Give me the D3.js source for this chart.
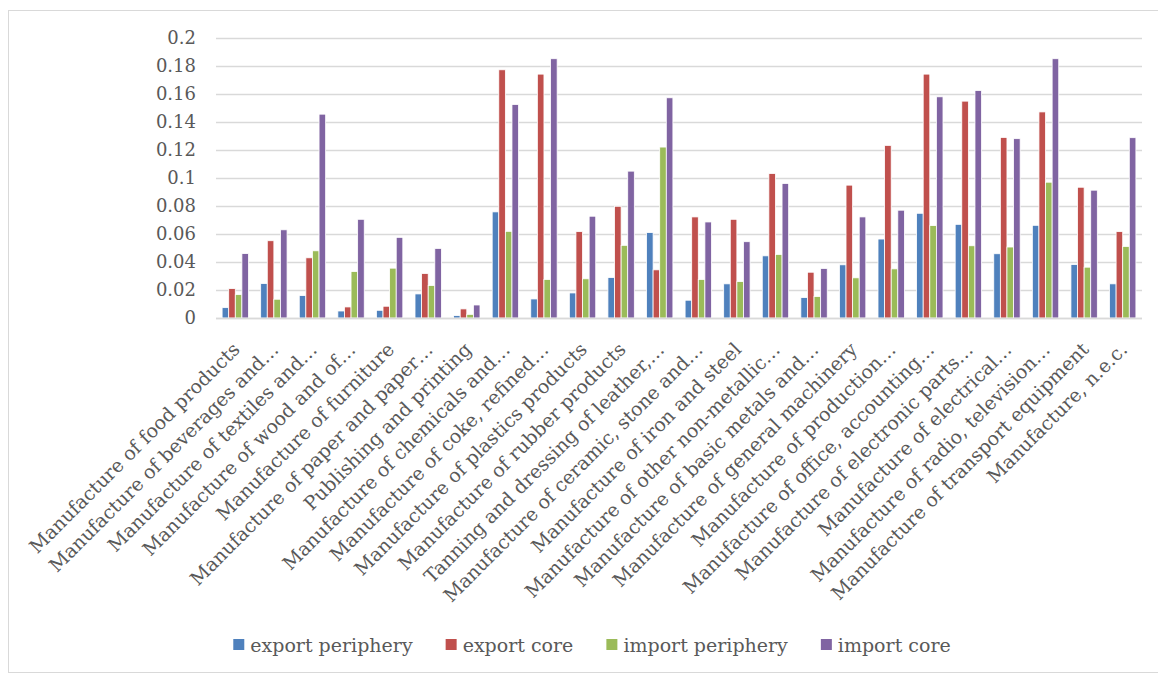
<!DOCTYPE html>
<html>
<head>
<meta charset="utf-8">
<script src="https://cdn.jsdelivr.net/npm/d3@7"></script>
<style>
  html, body { margin: 0; padding: 0; background: #fff; }
  svg { display: block; }
  text { font-family: "DejaVu Serif", serif; fill: #595959; }
</style>
</head>
<body>
<svg id="chart" width="1158" height="675"></svg>
<script>
// Industry categories (labels are shortened as shown on the axis)
const categories = [
  "Manufacture of food products",
  "Manufacture of beverages and…",
  "Manufacture of textiles and…",
  "Manufacture of wood and of…",
  "Manufacture of furniture",
  "Manufacture of paper and paper…",
  "Publishing and printing",
  "Manufacture of chemicals and…",
  "Manufacture of coke, refined…",
  "Manufacture of plastics products",
  "Manufacture of rubber products",
  "Tanning and dressing of leather,…",
  "Manufacture of ceramic, stone and…",
  "Manufacture of iron and steel",
  "Manufacture of other non-metallic…",
  "Manufacture of basic metals and…",
  "Manufacture of general machinery",
  "Manufacture of production…",
  "Manufacture of office, accounting…",
  "Manufacture of electronic parts…",
  "Manufacture of electrical…",
  "Manufacture of radio, television…",
  "Manufacture of transport equipment",
  "Manufacture, n.e.c."
];

const seriesNames = ["export periphery", "export core", "import periphery", "import core"];

const exportPeriphery = [0.0074, 0.0246, 0.016, 0.005, 0.0055, 0.0172, 0.0017, 0.0758,
  0.0136, 0.0179, 0.0289, 0.061, 0.0127, 0.0244, 0.0444, 0.0146,
  0.038, 0.0564, 0.0748, 0.0669, 0.0459, 0.0662, 0.0382, 0.0244];
const exportCore = [0.021, 0.0552, 0.043, 0.0079, 0.0084, 0.0318, 0.0065, 0.1773,
  0.1742, 0.0617, 0.0798, 0.0344, 0.0722, 0.0705, 0.1032, 0.0327,
  0.0949, 0.1233, 0.1742, 0.1549, 0.129, 0.1472, 0.0934, 0.0617];
const importPeriphery = [0.0167, 0.0134, 0.048, 0.0332, 0.0356, 0.0232, 0.0026, 0.0619,
  0.0275, 0.028, 0.0519, 0.1221, 0.0275, 0.026, 0.0454, 0.0153,
  0.0287, 0.0351, 0.066, 0.0516, 0.0507, 0.097, 0.0363, 0.0511];
const importCore = [0.046, 0.063, 0.1456, 0.0705, 0.0576, 0.0497, 0.0093, 0.1525,
  0.1852, 0.0727, 0.1049, 0.1573, 0.0686, 0.0545, 0.0961, 0.0354,
  0.0722, 0.077, 0.158, 0.1625, 0.1281, 0.1852, 0.0913, 0.1288];

const yTicks = [0, 0.02, 0.04, 0.06, 0.08, 0.1, 0.12, 0.14, 0.16, 0.18, 0.2];
const yTickLabels = ["0", "0.02", "0.04", "0.06", "0.08", "0.1", "0.12", "0.14", "0.16", "0.18", "0.2"];

const colors = ["#4F81BD", "#C0504D", "#9BBB59", "#8064A2"];

const seriesValues = [exportPeriphery, exportCore, importPeriphery, importCore];
const rows = categories.map((c, i) => ({
  category: c,
  values: seriesNames.map((s, j) => ({ series: s, value: seriesValues[j][i] }))
}));

const svg = d3.select("#chart");
const W = 1158, H = 675;

// outer chart frame
svg.append("rect")
  .attr("x", 8.5).attr("y", 10.5)
  .attr("width", W - 8).attr("height", H - 13)
  .attr("fill", "#fff").attr("stroke", "#d9d9d9").attr("stroke-width", 1);

const plot = { left: 216, right: 1142, top: 38, bottom: 318 };

const x = d3.scaleBand()
  .domain(categories)
  .range([plot.left, plot.right])
  .paddingInner(0.316)
  .paddingOuter(0.158);

const xs = d3.scaleBand()
  .domain(seriesNames)
  .range([0, x.bandwidth()]);

const y = d3.scaleLinear().domain([0, 0.2]).range([plot.bottom, plot.top]);

// horizontal gridlines
svg.append("g")
  .attr("transform", `translate(${plot.left},0)`)
  .call(d3.axisLeft(y).tickValues(yTicks).tickSize(-(plot.right - plot.left)).tickFormat(""))
  .call(g => g.select(".domain").remove())
  .call(g => g.selectAll(".tick line").attr("stroke", "#d9d9d9").attr("stroke-width", 1.3));

// y-axis labels
svg.append("g")
  .attr("transform", `translate(196,0)`)
  .call(d3.axisLeft(y).tickValues(yTicks).tickSize(0).tickPadding(0)
    .tickFormat((d, i) => yTickLabels[i]))
  .call(g => g.select(".domain").remove())
  .call(g => g.selectAll("text")
    .attr("font-family", "DejaVu Serif, serif")
    .attr("font-size", 18)
    .attr("fill", "#595959"));

// bars
const groups = svg.append("g").selectAll("g")
  .data(rows)
  .join("g")
  .attr("transform", d => `translate(${x(d.category)},0)`);

groups.selectAll("rect")
  .data(d => d.values)
  .join("rect")
  .attr("x", d => xs(d.series))
  .attr("y", d => y(d.value))
  .attr("width", xs.bandwidth())
  .attr("height", d => y(0) - y(d.value))
  .attr("fill", (d, i) => colors[i])
  .attr("stroke", "#fff")
  .attr("stroke-width", 0.8);

// category axis line
svg.append("line")
  .attr("x1", plot.left).attr("x2", plot.right)
  .attr("y1", plot.bottom + 0.5).attr("y2", plot.bottom + 0.5)
  .attr("stroke", "#d9d9d9").attr("stroke-width", 1.3);

// rotated category labels
const xAxis = svg.append("g")
  .attr("transform", `translate(0,${plot.bottom})`)
  .call(d3.axisBottom(x).tickSize(0).tickPadding(0))
  .call(g => g.select(".domain").remove());

xAxis.selectAll(".tick text")
  .attr("font-family", "DejaVu Serif, serif")
  .attr("font-size", 19)
  .attr("fill", "#595959")
  .attr("text-anchor", "end")
  .attr("dy", "0.35em")
  .attr("transform", "translate(1,28) rotate(-45)")
  .attr("y", 0);

// legend
const legend = svg.append("g");
let lx = 0;
seriesNames.forEach((s, i) => {
  const item = legend.append("g").attr("transform", `translate(${lx},0)`);
  item.append("rect")
    .attr("x", 0).attr("y", -6).attr("width", 11).attr("height", 11)
    .attr("fill", colors[i]);
  const t = item.append("text")
    .attr("x", 17).attr("y", 0).attr("dy", "0.35em")
    .attr("font-size", 19)
    .text(s);
  lx += 17 + t.node().getComputedTextLength() + 33;
});
const legendWidth = lx - 33;
legend.attr("transform", `translate(${592 - legendWidth / 2},645)`);
</script>
</body>
</html>
